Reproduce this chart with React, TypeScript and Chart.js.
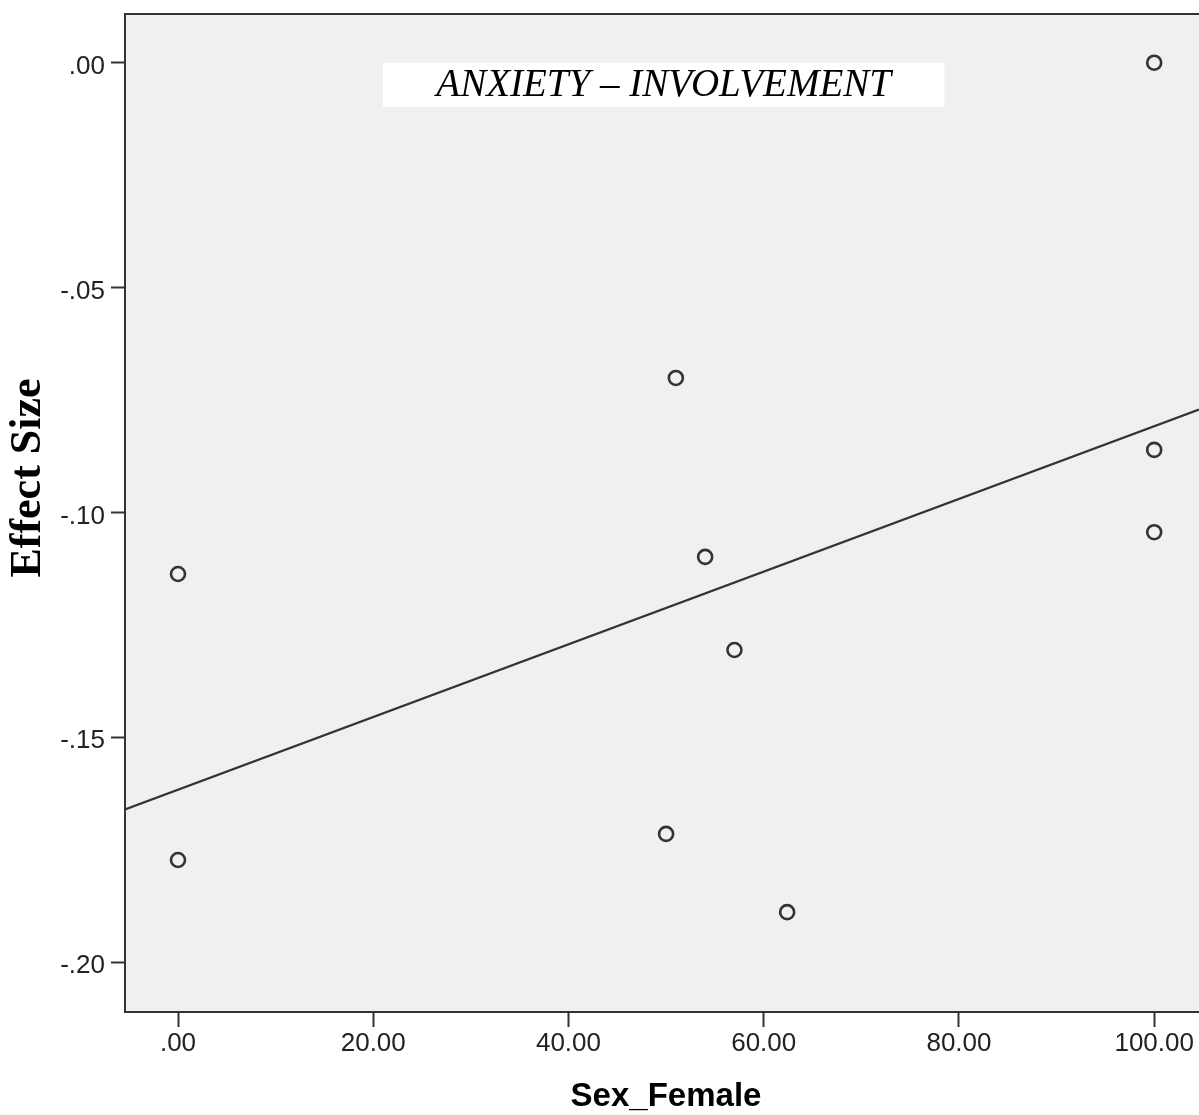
import React, { useEffect, useRef } from "react";
import { Chart, registerables } from "chart.js";

Chart.register(...registerables);

// Data
const sexFemale = [100, 51, 100, 100, 0, 54, 57, 50, 0, 62.4];
const effectSize = [0.0, -0.0701, -0.0861, -0.1044, -0.1137, -0.1099, -0.1306, -0.1715, -0.1773, -0.1889];

const xTickValues = [0, 20, 40, 60, 80, 100];
const xTickLabels = [".00", "20.00", "40.00", "60.00", "80.00", "100.00"];
const yTickValues = [0, -0.05, -0.1, -0.15, -0.2];
const yTickLabels = [".00", "-.05", "-.10", "-.15", "-.20"];

const chartTitle = "ANXIETY \u2013 INVOLVEMENT";
const xTitle = "Sex_Female";
const yTitle = "Effect Size";

const X_MIN = -5.43;
const X_MAX = 104.59;
const Y_MIN = -0.2111;
const Y_MAX = 0.01083;

function fitLine(xs: number[], ys: number[]) {
  const n = xs.length;
  const mx = xs.reduce((a, b) => a + b, 0) / n;
  const my = ys.reduce((a, b) => a + b, 0) / n;
  let sxy = 0;
  let sxx = 0;
  for (let i = 0; i < n; i++) {
    sxy += (xs[i] - mx) * (ys[i] - my);
    sxx += (xs[i] - mx) * (xs[i] - mx);
  }
  const slope = sxy / sxx;
  return { slope, intercept: my - slope * mx };
}

const decorPlugin = {
  id: "decor",
  beforeDraw(chart: any) {
    const { ctx, chartArea } = chart;
    ctx.save();
    ctx.fillStyle = "#f0f0f0";
    ctx.fillRect(chartArea.left, chartArea.top, chartArea.right - chartArea.left, chartArea.bottom - chartArea.top);
    ctx.restore();
  },
  beforeDatasetsDraw(chart: any) {
    const { ctx, chartArea, scales } = chart;
    ctx.save();
    // top frame line
    ctx.strokeStyle = "#333";
    ctx.lineWidth = 2;
    ctx.beginPath();
    ctx.moveTo(chartArea.left - 1, chartArea.top);
    ctx.lineTo(chartArea.right, chartArea.top);
    ctx.stroke();
    // title box
    const x0 = scales.x.getPixelForValue(21.0);
    const x1 = scales.x.getPixelForValue(78.5);
    const y0 = scales.y.getPixelForValue(0);
    const y1 = scales.y.getPixelForValue(-0.0098);
    ctx.fillStyle = "#ffffff";
    ctx.fillRect(x0, y0, x1 - x0, y1 - y0);
    ctx.fillStyle = "#000";
    ctx.font = "italic 39px 'Liberation Serif', 'Times New Roman', serif";
    ctx.textAlign = "center";
    ctx.textBaseline = "middle";
    ctx.fillText(chartTitle, (x0 + x1) / 2, (y0 + y1) / 2 + 1);
    ctx.restore();
  },
  afterDraw(chart: any) {
    const { ctx } = chart;
    ctx.save();
    ctx.fillStyle = "#000";
    ctx.textAlign = "center";
    ctx.textBaseline = "middle";
    ctx.font = "bold 33px 'Liberation Sans', Arial, sans-serif";
    ctx.fillText(xTitle, 666, 1097);
    ctx.translate(29, 478);
    ctx.rotate(-Math.PI / 2);
    ctx.font = "bold 44px 'Liberation Serif', 'Times New Roman', serif";
    ctx.fillText(yTitle, 0, 0);
    ctx.restore();
  },
};

export default function App() {
  const canvasRef = useRef<HTMLCanvasElement | null>(null);

  useEffect(() => {
    if (!canvasRef.current) return;
    const { slope, intercept } = fitLine(sexFemale, effectSize);
    const points = sexFemale.map((x, i) => ({ x, y: effectSize[i] }));
    const tickFont = { family: "'Liberation Sans', Arial, sans-serif", size: 26, lineHeight: 1 };

    const chart = new Chart(canvasRef.current, {
      type: "scatter",
      data: {
        datasets: [
          {
            type: "line",
            data: [
              { x: X_MIN, y: intercept + slope * X_MIN },
              { x: X_MAX, y: intercept + slope * X_MAX },
            ],
            borderColor: "#333",
            borderWidth: 2.2,
            pointRadius: 0,
            fill: false,
          } as any,
          {
            data: points,
            pointStyle: "circle",
            pointRadius: 7,
            borderColor: "#333",
            borderWidth: 2.6,
            backgroundColor: "rgba(0,0,0,0)",
          },
        ],
      },
      options: {
        animation: false,
        responsive: false,
        maintainAspectRatio: false,
        layout: { autoPadding: false, padding: { top: 14, right: 0, left: 0, bottom: 0 } },
        plugins: { legend: { display: false }, tooltip: { enabled: false }, title: { display: false } },
        scales: {
          x: {
            type: "linear",
            min: X_MIN,
            max: X_MAX,
            afterBuildTicks: (scale: any) => {
              scale.ticks = xTickValues.map((v) => ({ value: v }));
            },
            afterFit: (scale: any) => {
              scale.height = 103;
              scale.paddingLeft = 0;
              scale.paddingRight = 0;
            },
            ticks: {
              color: "#222",
              font: tickFont,
              padding: 4,
              maxRotation: 0,
              callback: (v: any) => {
                const i = xTickValues.indexOf(Number(v));
                return i >= 0 ? xTickLabels[i] : "";
              },
            },
            grid: { display: true, drawOnChartArea: false, drawTicks: true, tickLength: 15, tickColor: "#333", tickWidth: 2 },
            border: { display: true, color: "#333", width: 2 },
          },
          y: {
            type: "linear",
            min: Y_MIN,
            max: Y_MAX,
            afterBuildTicks: (scale: any) => {
              scale.ticks = yTickValues.map((v) => ({ value: v }));
            },
            afterFit: (scale: any) => {
              scale.width = 125;
              scale.paddingTop = 0;
              scale.paddingBottom = 0;
            },
            ticks: {
              color: "#222",
              font: tickFont,
              padding: 6,
              labelOffset: 4,
              callback: (v: any) => {
                const i = yTickValues.findIndex((t) => Math.abs(t - Number(v)) < 1e-9);
                return i >= 0 ? yTickLabels[i] : "";
              },
            },
            grid: { display: true, drawOnChartArea: false, drawTicks: true, tickLength: 14, tickColor: "#333", tickWidth: 2 },
            border: { display: true, color: "#333", width: 2 },
          },
        },
      } as any,
      plugins: [decorPlugin],
    });
    return () => chart.destroy();
  }, []);

  return (
    <div style={{ position: "absolute", left: 0, top: 0, width: 1199, height: 1115, overflow: "hidden", background: "#fff" }}>
      <canvas ref={canvasRef} width={1199} height={1115} style={{ display: "block", width: 1199, height: 1115 }} />
    </div>
  );
}
